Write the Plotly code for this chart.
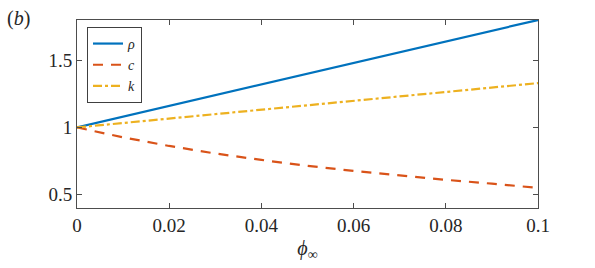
import plotly.graph_objects as go

phi = [0.0, 0.01, 0.02, 0.03, 0.04, 0.05, 0.06, 0.07, 0.08, 0.09, 0.1]
rho = [1.0, 1.08, 1.16, 1.24, 1.32, 1.40, 1.48, 1.56, 1.64, 1.72, 1.80]
c_vals = [1.0, 0.926, 0.862, 0.806, 0.758, 0.714, 0.676, 0.641, 0.610, 0.581, 0.550]
k_vals = [1.0, 1.033, 1.066, 1.099, 1.132, 1.165, 1.198, 1.231, 1.264, 1.297, 1.330]

x_ticks = [0, 0.02, 0.04, 0.06, 0.08, 0.1]
x_ticklabels = ["0", "0.02", "0.04", "0.06", "0.08", "0.1"]
y_ticks = [0.5, 1, 1.5]
y_ticklabels = ["0.5", "1", "1.5"]

FONT = "Liberation Serif"
AX = "#4d4d4d"

fig = go.Figure()
fig.add_trace(go.Scatter(x=phi, y=rho, mode="lines", name="<i>ρ</i>",
                         line=dict(color="#0072BD", width=2.2)))
fig.add_trace(go.Scatter(x=phi, y=c_vals, mode="lines", name="<i>c</i>",
                         line=dict(color="#D95319", width=2.2, dash="10px,8px")))
fig.add_trace(go.Scatter(x=phi, y=k_vals, mode="lines", name="<i>k</i>",
                         line=dict(color="#EDB120", width=2.2, dash="9px,3px,3px,3px")))

fig.update_layout(
    width=595, height=268,
    margin=dict(l=77, r=57, t=20, b=58),
    paper_bgcolor="white", plot_bgcolor="white",
    font=dict(family=FONT, size=19, color="#262626"),
    showlegend=True,
    legend=dict(x=0.0217, y=0.963, xanchor="left", yanchor="top",
                bgcolor="white", bordercolor="#404040", borderwidth=1,
                font=dict(family=FONT, size=14, color="#262626"),
                tracegroupgap=0, itemwidth=30),
    xaxis=dict(range=[0, 0.1], tickvals=x_ticks, ticktext=x_ticklabels,
               showline=True, linecolor=AX, linewidth=1, mirror="ticks",
               ticks="inside", ticklen=5, tickcolor=AX, showgrid=False, zeroline=False,
               title=dict(text="<i>ϕ</i><sub>∞</sub>", standoff=6,
                          font=dict(family=FONT, size=20))),
    yaxis=dict(range=[0.4, 1.8], tickvals=y_ticks, ticktext=y_ticklabels,
               showline=True, linecolor=AX, linewidth=1, mirror="ticks",
               ticks="inside", ticklen=5, tickcolor=AX, showgrid=False, zeroline=False),
    annotations=[dict(text="(<i>b</i>)", xref="paper", yref="paper",
                      x=-0.157, y=1.08, xanchor="left", yanchor="top",
                      showarrow=False, font=dict(family=FONT, size=20, color="#262626"))],
)

fig.write_html("out.html", post_script="document.body.style.margin='0';",
               config={"displayModeBar": False})
